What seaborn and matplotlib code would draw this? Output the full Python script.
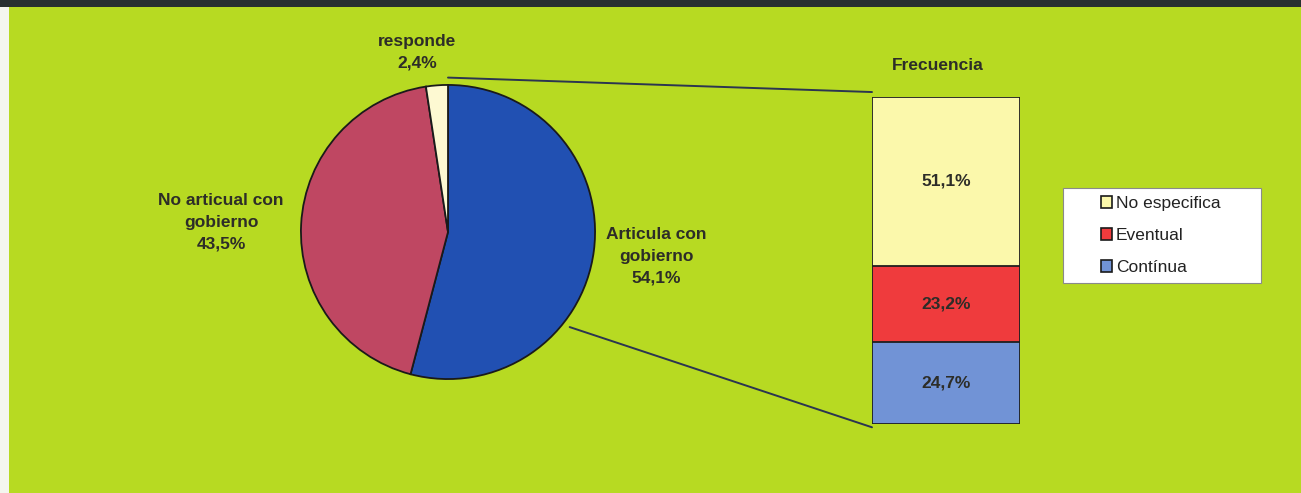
import numpy as np
import matplotlib
matplotlib.use("Agg")
import matplotlib.pyplot as plt
from matplotlib.patches import Rectangle, Patch, ConnectionPatch
import seaborn as sns

# ---- data ----
pie_labels = ["Articula con\ngobierno", "No articual con\ngobierno", "responde"]
pie_values = [54.1, 43.5, 2.4]
pie_colors = ["#2150b2", "#bf4762", "#fdf9d2"]

bar_categories = ["Contínua", "Eventual", "No especifica"]
bar_values = [24.7, 23.2, 51.1]
bar_colors = ["#7193d6", "#ef3b3d", "#fbf8ab"]

bar_title = "Frecuencia"

W, H = 1301, 493
GREEN = "#b7da22"
TXT = "#2d2d28"

sns.set_theme(style="white")
plt.rcParams["font.family"] = ["Liberation Sans", "DejaVu Sans"]

fig = plt.figure(figsize=(W / 100, H / 100), dpi=100)
fig.patch.set_facecolor(GREEN)


def fbox(x0, y0, x1, y1):
    return [x0 / W, 1 - y1 / H, (x1 - x0) / W, (y1 - y0) / H]


def fx(x):
    return x / W


def fy(y):
    return 1 - y / H


# white strip left and dark title band top
fig.patches.append(Rectangle((0, 0), 9 / W, 1, transform=fig.transFigure,
                             facecolor="#f4f6ee", edgecolor="none", zorder=0))
fig.patches.append(Rectangle((0, fy(7)), 1, 7 / H, transform=fig.transFigure,
                             facecolor="#283030", edgecolor="none", zorder=0))

# ---- pie ----
cx, cy, r = 448, 232, 150
ax_pie = fig.add_axes(fbox(cx - r, cy - r, cx + r, cy + r))
ax_pie.pie(pie_values, colors=pie_colors, startangle=90, counterclock=False,
           radius=1, wedgeprops=dict(edgecolor="#1a1a1a", linewidth=1.3))
ax_pie.set_xlim(-1.02, 1.02)
ax_pie.set_ylim(-1.02, 1.02)
ax_pie.set_axis_off()

fs_lbl = 12.5
LS = 1.55


def pct(v):
    return f"{v:.1f}%".replace(".", ",")


fig.text(fx(656), fy(256), f"{pie_labels[0]}\n{pct(pie_values[0])}",
         ha="center", va="center", fontsize=fs_lbl, fontweight="bold", color=TXT,
         linespacing=LS)
fig.text(fx(221), fy(222), f"{pie_labels[1]}\n{pct(pie_values[1])}",
         ha="center", va="center", fontsize=fs_lbl, fontweight="bold", color=TXT,
         linespacing=LS)
fig.text(fx(417), fy(52), f"{pie_labels[2]}\n{pct(pie_values[2])}",
         ha="center", va="center", fontsize=fs_lbl, fontweight="bold", color=TXT,
         linespacing=LS)

# ---- stacked bar ----
ax_bar = fig.add_axes(fbox(872, 97, 1020, 424))
cum = np.cumsum(bar_values)
for i in range(len(bar_values) - 1, -1, -1):
    sns.barplot(x=[0], y=[cum[i]], color=bar_colors[i], width=1.0, saturation=1,
                edgecolor="#1f1f1f", linewidth=1.3, ax=ax_bar)
ax_bar.set_xlim(-0.5, 0.5)
ax_bar.set_ylim(0, cum[-1])
ax_bar.set_axis_off()
starts = np.concatenate([[0], cum[:-1]])
for s, v in zip(starts, bar_values):
    ax_bar.text(0, s + v / 2, pct(v), ha="center", va="center",
                fontsize=fs_lbl, fontweight="bold", color=TXT)
fig.text(fx(938), fy(66), bar_title, ha="center", va="center", fontsize=fs_lbl,
         fontweight="bold", color=TXT)

# connection lines
a2 = np.deg2rad(-38)
for (px, py), (bx, by) in [((0.0, 1.05), (-0.5, cum[-1] + 1.5)),
                           ((1.05 * np.cos(a2), 1.05 * np.sin(a2)), (-0.5, -1.0))]:
    con = ConnectionPatch(xyA=(px, py), coordsA=ax_pie.transData,
                          xyB=(bx, by), coordsB=ax_bar.transData,
                          color="#2b3550", linewidth=1.4)
    fig.add_artist(con)

# ---- legend ----
fig.patches.append(Rectangle((fx(1063), fy(283)), (1261 - 1063) / W, (283 - 188) / H,
                             transform=fig.transFigure, facecolor="white",
                             edgecolor="#8a8a8a", linewidth=0.8, zorder=1))
handles = [Patch(facecolor=bar_colors[i], edgecolor="#1a1a1a", linewidth=1.2,
                 label=bar_categories[i]) for i in range(len(bar_categories) - 1, -1, -1)]
leg = fig.legend(handles=handles, loc="upper left",
                 bbox_to_anchor=(fx(1101), fy(196)), frameon=False,
                 fontsize=12.5, handlelength=0.62, handleheight=0.62,
                 handletextpad=0.25, labelspacing=0.98, borderpad=0.0,
                 borderaxespad=0.0)
for t in leg.get_texts():
    t.set_color("#222222")
leg.set_zorder(3)

fig.savefig("out.png", dpi=100, facecolor=fig.get_facecolor())
